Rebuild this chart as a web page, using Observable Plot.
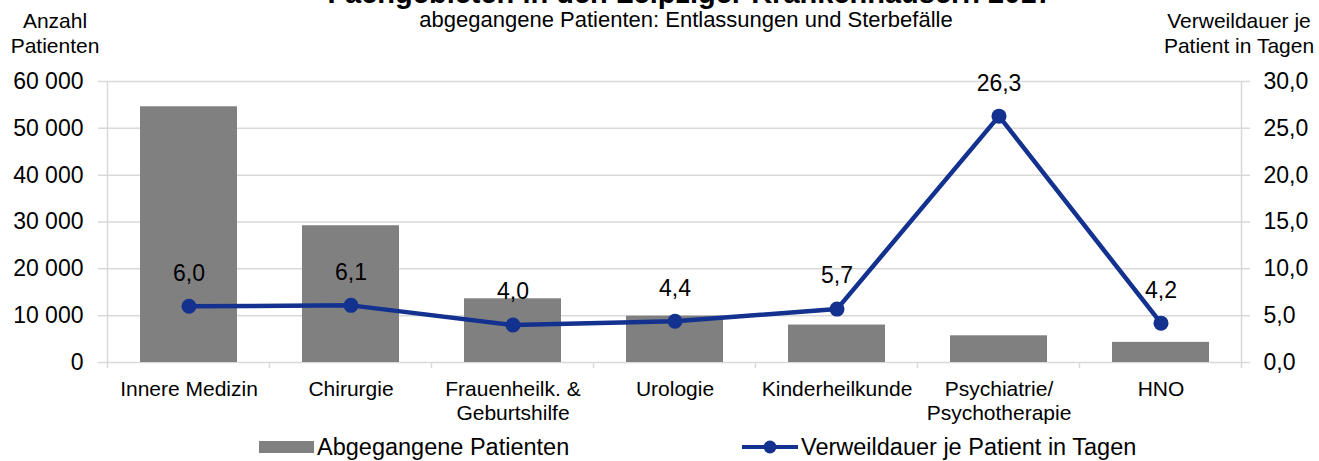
<!DOCTYPE html>
<html><head><meta charset="utf-8">
<script src="https://cdn.jsdelivr.net/npm/d3@7"></script>
<script src="https://cdn.jsdelivr.net/npm/@observablehq/plot@0.6"></script>
<style>
body{margin:0;background:#fff;font-family:"Liberation Sans",Arial,sans-serif;}
#wrap{position:relative;width:1319px;height:461px;overflow:hidden;background:#fff;}
#chart{position:absolute;left:0;top:0;}
.t{position:absolute;white-space:nowrap;color:#000;}
.c{transform:translateX(-50%);text-align:center;}
.title{font-weight:bold;font-size:29px;line-height:29px;top:-21px;left:690px;}
.sub{font-size:22px;line-height:22px;top:9px;left:686px;}
.ax{font-size:21px;line-height:25px;top:8px;}
.leg{top:434px;left:0;height:26px;font-size:23.5px;line-height:26px;display:flex;align-items:center;}
.sw{display:inline-block;}
</style></head><body>
<div id="wrap">
  <div id="chart"></div>
  <div class="t c title">Fachgebieten in den Leipziger Krankenhäusern 2017</div>
  <div class="t c sub">abgegangene Patienten: Entlassungen und Sterbefälle</div>
  <div class="t c ax" style="left:55px">Anzahl<br>Patienten</div>
  <div class="t c ax" style="left:1239px">Verweildauer je<br>Patient in Tagen</div>
  <div class="t leg" style="left:259px"><span class="sw" style="width:55px;height:12px;background:#808080;margin-right:3px"></span>Abgegangene Patienten</div>
  <div class="t leg" style="left:742px"><svg width="56" height="16" style="margin-right:3px"><line x1="0" y1="8" x2="56" y2="8" stroke="#13318f" stroke-width="4"/><circle cx="28" cy="8" r="6.5" fill="#13318f"/></svg>Verweildauer je Patient in Tagen</div>
</div>
<script>
const categories = ["Innere Medizin","Chirurgie","Frauenheilk. & Geburtshilfe","Urologie","Kinderheilkunde","Psychiatrie/ Psychotherapie","HNO"];
const categoryLabels = ["Innere Medizin","Chirurgie","Frauenheilk. &\nGeburtshilfe","Urologie","Kinderheilkunde","Psychiatrie/\nPsychotherapie","HNO"];
const patienten = [54600, 29200, 13600, 9900, 8000, 5700, 4300];
const verweildauer = [6.0, 6.1, 4.0, 4.4, 5.7, 26.3, 4.2];
const leftTicks = [0, 10000, 20000, 30000, 40000, 50000, 60000];
const rightTicks = [0, 5, 10, 15, 20, 25, 30];

const leftMax = leftTicks[leftTicks.length - 1];
const rightMax = rightTicks[rightTicks.length - 1];
const k = leftMax / rightMax;

const barColor = "#808080";
const lineColor = "#13318f";
const gridColor = "#d9d9d9";

const data = categories.map((c, i) => ({cat: c, label: categoryLabels[i], patienten: patienten[i], dauer: verweildauer[i]}));
const labelOf = new Map(categories.map((c, i) => [c, categoryLabels[i]]));
const fmtLeft = d => d3.format(",")(d).replace(/,/g, " ");
const fmtRight = d => (d / k).toFixed(1).replace(".", ",");

function frameLines(index, scales, values, dims) {
  const x = scales.x, y = scales.y;
  const bw = x.bandwidth ? x.bandwidth() : 0;
  const step = x.step ? x.step() : (dims.width - dims.marginLeft - dims.marginRight) / categories.length;
  const off = (step - bw) / 2;
  const edges = categories.map(c => x(c) - off);
  edges.push(x(categories[categories.length - 1]) + bw + off);
  const y0 = y(0), yTop = y(leftMax);
  const g = d3.create("svg:g").attr("stroke", gridColor).attr("stroke-width", 1.5).attr("fill", "none");
  edges.forEach((e, i) => {
    const top = (i === 0 || i === edges.length - 1) ? yTop : y0;
    g.append("line").attr("x1", e).attr("x2", e).attr("y1", top).attr("y2", y0 + 6);
  });
  return g.node();
}

const chart = Plot.plot({
  width: 1319,
  height: 461,
  marginTop: 81,
  marginBottom: 99,
  marginLeft: 106,
  marginRight: 76,
  style: {fontFamily: "'Liberation Sans', Arial, sans-serif", color: "#000", background: "#fff"},
  x: {type: "band", domain: categories, paddingInner: 0.4, paddingOuter: 0.2, label: null},
  y: {domain: [0, leftMax], label: null},
  marks: [
    Plot.ruleY(leftTicks, {stroke: gridColor, strokeWidth: 1.5, insetLeft: -8, insetRight: -7}),
    Plot.barY(data, {x: "cat", y: "patienten", fill: barColor}),
    frameLines,
    Plot.line(data, {x: "cat", y: d => d.dauer * k, stroke: lineColor, strokeWidth: 4.5}),
    Plot.dot(data, {x: "cat", y: d => d.dauer * k, r: 7.5, fill: lineColor}),
    Plot.text(data, {x: "cat", y: d => d.dauer * k, text: d => d.dauer.toFixed(1).replace(".", ","), dy: -33, fontSize: 23, fill: "#000"}),
    Plot.axisY({anchor: "left", ticks: leftTicks, tickFormat: fmtLeft, tickSize: 0, tickPadding: 23, fontSize: 23, label: null}),
    Plot.axisY({anchor: "right", ticks: rightTicks.map(d => d * k), tickFormat: fmtRight, tickSize: 0, tickPadding: 20, fontSize: 23, label: null}),
    Plot.axisX({anchor: "bottom", tickSize: 0, tickPadding: 17, fontSize: 21, lineHeight: 1.12, tickFormat: c => labelOf.get(c), label: null})
  ]
});
document.getElementById("chart").appendChild(chart);
</script>
</body></html>
